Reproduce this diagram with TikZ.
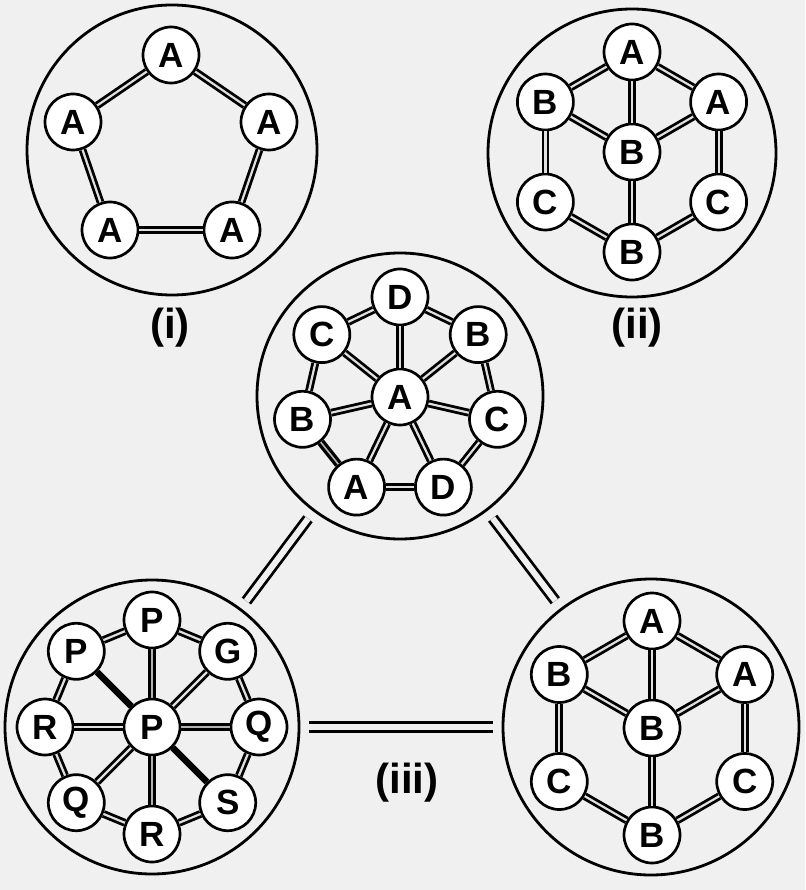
\documentclass[tikz,border=0pt]{standalone}
\usepackage{fontspec}
\setmainfont{Liberation Sans}
\definecolor{bgc}{RGB}{240,240,240}
\tikzset{
  ring/.style={circle, draw, line width=2.8pt, minimum size=#1, inner sep=0pt},
  atom/.style={circle, draw, line width=2.7pt, fill=white, minimum size=56pt, inner sep=0pt,
    font=\fontsize{35}{35}\selectfont\bfseries},
  bond/.style={double=gray!25, line width=2.8pt, double distance=2.2pt},
  bondthick/.style={double=gray!60, line width=3.2pt, double distance=1.6pt},
  bondsolid/.style={line width=6.5pt, black},
  conn/.style={double=bgc, line width=2.8pt, double distance=6pt, shorten >=9pt, shorten <=9pt},
  lbl/.style={font=\fontsize{42}{42}\selectfont\bfseries}
}
\begin{document}
\begin{tikzpicture}[x=1pt, y=-1pt]
\useasboundingbox[fill=bgc] (0,0) rectangle (805,890);

% big circles
\node[ring=290pt] (G1) at (172,150) {};
\node[ring=288pt] (G2) at (632,153) {};
\node[ring=286pt] (G3) at (400,396) {};
\node[ring=294pt] (G4) at (152,727) {};
\node[ring=296pt] (G5) at (651,727) {};

% connectors between big circles
\draw[conn] (G3) -- (G4);
\draw[conn] (G3) -- (G5);
\draw[conn] (G4) -- (G5);

% labels
\node[lbl] (L1) at (170,328) {(i)};
\node[lbl] (L2) at (637,328) {(ii)};
\node[lbl] (L3) at (407,783) {(iii)};

% (i) pentagon
\node[atom] (a1) at (171,55) {A};
\node[atom] (a2) at (73,122) {A};
\node[atom] (a3) at (269,122) {A};
\node[atom] (a4) at (110,230) {A};
\node[atom] (a5) at (232,230) {A};
\draw[bond] (a1) -- (a2);
\draw[bond] (a1) -- (a3);
\draw[bond] (a2) -- (a4);
\draw[bond] (a3) -- (a5);
\draw[bond] (a4) -- (a5);

% (ii) hexagon
\node[atom] (b1) at (632,52) {A};
\node[atom] (b2) at (545.4,102) {B};
\node[atom] (b3) at (718.6,102) {A};
\node[atom] (b4) at (632,152) {B};
\node[atom] (b5) at (545.4,202) {C};
\node[atom] (b6) at (718.6,202) {C};
\node[atom] (b7) at (632,252) {B};
\draw[bond] (b1) -- (b2);
\draw[bond] (b1) -- (b3);
\draw[bond] (b1) -- (b4);
\draw[bond] (b2) -- (b4);
\draw[bond] (b3) -- (b4);
\draw[bond] (b2) -- (b5);
\draw[bond] (b3) -- (b6);
\draw[bond] (b5) -- (b7);
\draw[bond] (b6) -- (b7);
\draw[bond] (b4) -- (b7);

% middle heptagon
\node[atom] (c0) at (400,397) {A};
\node[atom] (c1) at (400,297) {D};
\node[atom] (c2) at (321.8,334.6) {C};
\node[atom] (c3) at (302.5,419.3) {B};
\node[atom] (c4) at (356.6,487.1) {A};
\node[atom] (c5) at (443.4,487.1) {D};
\node[atom] (c6) at (497.5,419.3) {C};
\node[atom] (c7) at (478.2,334.6) {B};
\draw[bond] (c1) -- (c2);
\draw[bond] (c2) -- (c3);
\draw[bondthick] (c3) -- (c4);
\draw[bond] (c4) -- (c5);
\draw[bond] (c5) -- (c6);
\draw[bond] (c6) -- (c7);
\draw[bond] (c7) -- (c1);
\foreach \k in {1,...,7} { \draw[bond] (c0) -- (c\k); }

% bottom-left octagon
\node[atom] (d0) at (152,727) {P};
\node[atom] (d1) at (152,620) {P};
\node[atom] (d2) at (76.3,651.3) {P};
\node[atom] (d3) at (45,727) {R};
\node[atom] (d4) at (76.3,802.7) {Q};
\node[atom] (d5) at (152,834) {R};
\node[atom] (d6) at (227.7,802.7) {S};
\node[atom] (d7) at (259,727) {Q};
\node[atom] (d8) at (227.7,651.3) {G};
\draw[bond] (d1) -- (d2);
\draw[bond] (d2) -- (d3);
\draw[bond] (d3) -- (d4);
\draw[bond] (d4) -- (d5);
\draw[bond] (d5) -- (d6);
\draw[bond] (d6) -- (d7);
\draw[bond] (d7) -- (d8);
\draw[bond] (d8) -- (d1);
\draw[bondthick] (d0) -- (d1);
\draw[bondsolid] (d0) -- (d2);
\draw[bond] (d0) -- (d3);
\draw[bond] (d0) -- (d4);
\draw[bondthick] (d0) -- (d5);
\draw[bondsolid] (d0) -- (d6);
\draw[bondthick] (d0) -- (d7);
\draw[bond] (d0) -- (d8);

% bottom-right hexagon
\node[atom] (e1) at (652,621) {A};
\node[atom] (e2) at (559.3,674.5) {B};
\node[atom] (e3) at (744.7,674.5) {A};
\node[atom] (e4) at (652,728) {B};
\node[atom] (e5) at (559.3,781.5) {C};
\node[atom] (e6) at (744.7,781.5) {C};
\node[atom] (e7) at (652,835) {B};
\draw[bond] (e1) -- (e2);
\draw[bond] (e1) -- (e3);
\draw[bond] (e1) -- (e4);
\draw[bond] (e2) -- (e4);
\draw[bond] (e3) -- (e4);
\draw[bond] (e2) -- (e5);
\draw[bond] (e3) -- (e6);
\draw[bond] (e5) -- (e7);
\draw[bond] (e6) -- (e7);
\draw[bond] (e4) -- (e7);
\end{tikzpicture}
\end{document}
